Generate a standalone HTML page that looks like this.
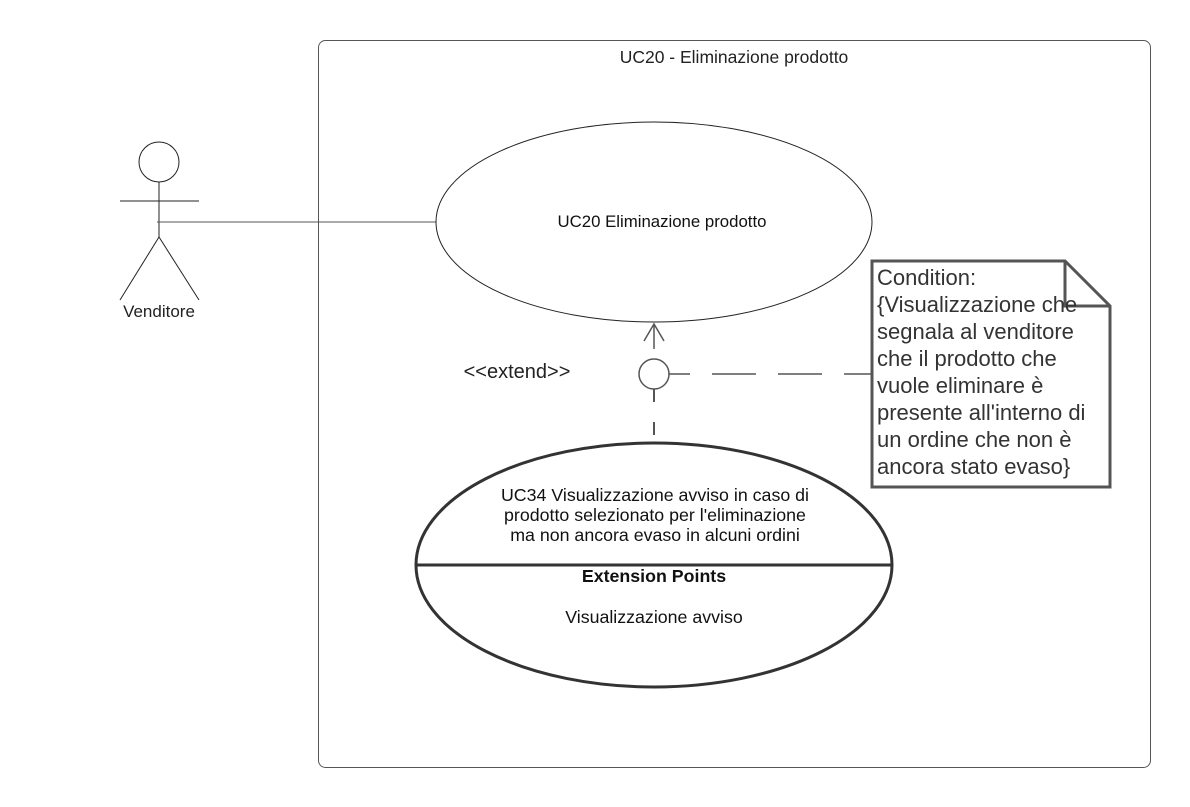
<!DOCTYPE html>
<html><head><style>
body{margin:0;background:#fff;}
svg{display:block;font-family:"Liberation Sans",sans-serif;}
</style></head><body>
<svg width="1190" height="807" viewBox="0 0 1190 807">
<rect x="318.5" y="40.5" width="832" height="727" rx="7" fill="#fff" stroke="#555" stroke-width="1"/>
<text x="734" y="63" font-size="17.5" text-anchor="middle" fill="#222">UC20 - Eliminazione prodotto</text>
<!-- actor -->
<circle cx="159" cy="162" r="20" fill="#fff" stroke="#222" stroke-width="1"/>
<line x1="159" y1="182" x2="159" y2="237" stroke="#222"/>
<line x1="120" y1="201" x2="199" y2="201" stroke="#222"/>
<line x1="159" y1="237" x2="120" y2="300" stroke="#222"/>
<line x1="159" y1="237" x2="199" y2="300" stroke="#222"/>
<text x="159" y="317" font-size="17" text-anchor="middle" fill="#222">Venditore</text>
<line x1="157" y1="222" x2="436" y2="222" stroke="#555"/>
<!-- UC20 -->
<ellipse cx="654" cy="222" rx="218" ry="100" fill="#fff" stroke="#222"/>
<text x="662" y="227" font-size="16.8" text-anchor="middle" fill="#111">UC20 Eliminazione prodotto</text>
<!-- extend -->
<text x="517" y="378" font-size="20" text-anchor="middle" fill="#222">&lt;&lt;extend&gt;&gt;</text>
<polyline points="644,341 654,324 664,341" fill="none" stroke="#555" stroke-width="1.5"/>
<line x1="654" y1="324" x2="654" y2="349" stroke="#555" stroke-width="1.5"/>
<circle cx="654" cy="374" r="15" fill="#fff" stroke="#555" stroke-width="1.5"/>
<line x1="654" y1="389" x2="654" y2="443" stroke="#555" stroke-width="2" stroke-dasharray="13,20"/>
<line x1="669" y1="374" x2="872" y2="374" stroke="#555" stroke-width="1.5" stroke-dasharray="44,22" stroke-dashoffset="23"/>
<!-- note -->
<path d="M872,261 H1065 L1110,306 V487 H872 Z" fill="#fff" stroke="#555" stroke-width="3"/>
<path d="M1065,261 V306 H1110" fill="none" stroke="#555" stroke-width="3"/>
<g font-size="22" fill="#333">
<text x="877" y="285">Condition:</text>
<text x="877" y="312">{Visualizzazione che</text>
<text x="877" y="339">segnala al venditore</text>
<text x="877" y="366">che il prodotto che</text>
<text x="877" y="393">vuole eliminare è</text>
<text x="877" y="420">presente all'interno di</text>
<text x="877" y="447">un ordine che non è</text>
<text x="877" y="474">ancora stato evaso}</text>
</g>
<!-- UC34 -->
<ellipse cx="654" cy="565" rx="238" ry="122" fill="#fff" stroke="#333" stroke-width="3"/>
<line x1="416" y1="565" x2="892" y2="565" stroke="#333" stroke-width="3"/>
<g font-size="17.8" fill="#111" text-anchor="middle">
<text x="655" y="501">UC34 Visualizzazione avviso in caso di</text>
<text x="655" y="521">prodotto selezionato per l'eliminazione</text>
<text x="655" y="541">ma non ancora evaso in alcuni ordini</text>
<text x="654" y="582" font-weight="bold">Extension Points</text>
<text x="654" y="623">Visualizzazione avviso</text>
</g>
</svg>
</body></html>
